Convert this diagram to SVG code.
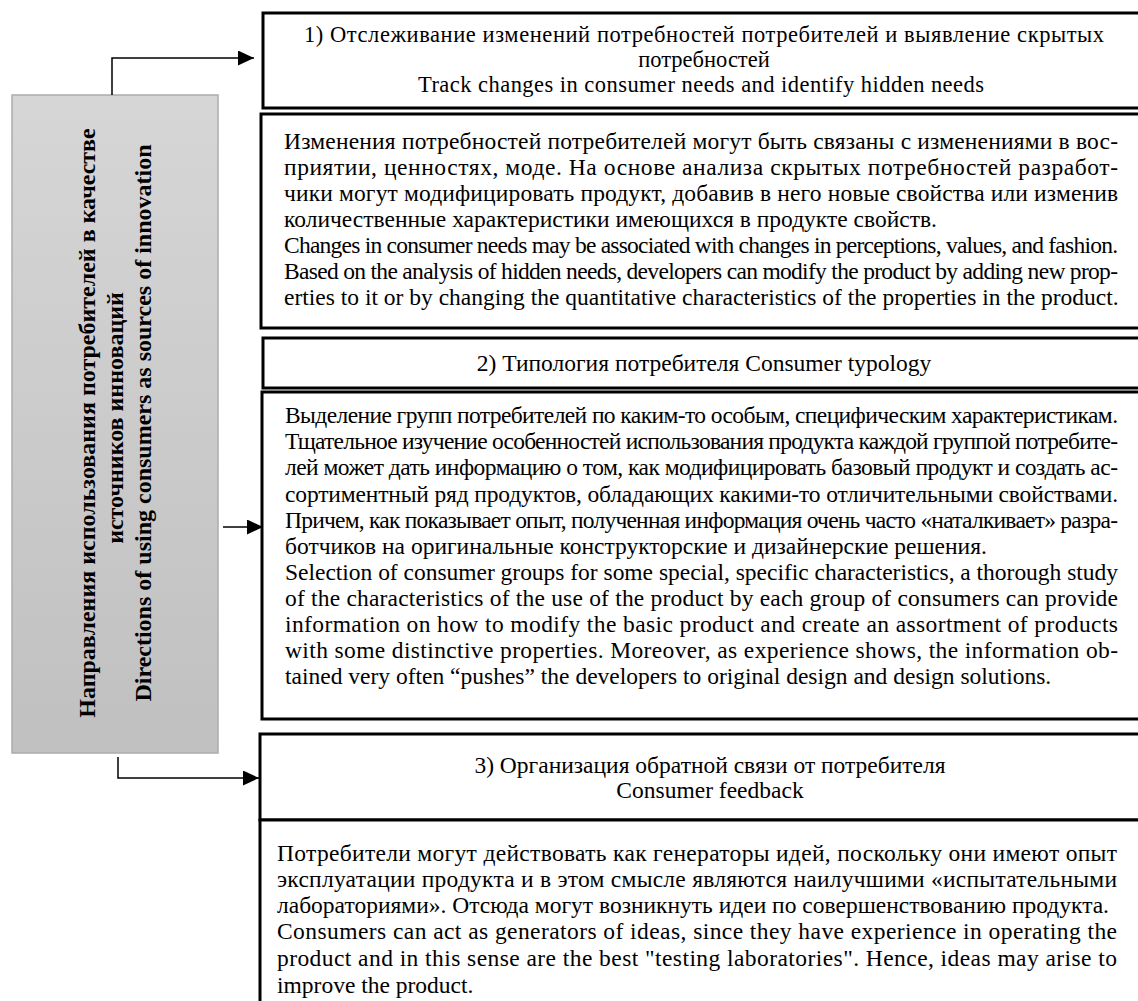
<svg xmlns="http://www.w3.org/2000/svg" width="1138" height="1001" viewBox="0 0 1138 1001">
<style>
.box{fill:#fff;stroke:#000;stroke-width:3}
.t{font-family:"Liberation Serif","Times New Roman",serif;font-size:23.5px;fill:#000}
.h{font-family:"Liberation Serif","Times New Roman",serif;font-size:23.5px;fill:#000;text-anchor:middle}
.h1{font-size:22.5px}
.v{font-family:"Liberation Serif","Times New Roman",serif;font-size:24px;font-weight:bold;fill:#000;text-anchor:middle}
.conn{fill:none;stroke:#000;stroke-width:1.5}
</style>
<defs>
<linearGradient id="g" x1="0" y1="0" x2="0" y2="1">
<stop offset="0" stop-color="#d6d6d6"/>
<stop offset="1" stop-color="#c0c0c0"/>
</linearGradient>
<marker id="arr" viewBox="0 0 16 15" refX="16" refY="7.5" markerWidth="16" markerHeight="15" markerUnits="userSpaceOnUse" orient="auto">
<path d="M0,0 L16,7.5 L0,15 Z" fill="#000"/>
</marker>
</defs>

<g id="main">
<rect x="12" y="95" width="206" height="658" fill="url(#g)" stroke="#acacac" stroke-width="1.5"/>
<text class="v" transform="translate(95,423) rotate(-90)">Направления использования потребителей в качестве</text>
<text class="v" transform="translate(123,418) rotate(-90)">источников инноваций</text>
<text class="v" transform="translate(151,423) rotate(-90)">Directions of using consumers as sources of innovation</text>
</g>

<g id="connectors">
<polyline class="conn" points="112,95 112,58 254,58" marker-end="url(#arr)"/>
<line class="conn" x1="223" y1="527" x2="263" y2="527" marker-end="url(#arr)"/>
<polyline class="conn" points="118,757 118,778 259,778" marker-end="url(#arr)"/>
</g>

<g id="header1">
<rect class="box" x="263" y="13" width="900" height="95"/>
<text class="h h1" x="704" y="42" textLength="800" lengthAdjust="spacing">1) Отслеживание изменений потребностей потребителей и выявление скрытых</text>
<text class="h h1" x="704" y="67">потребностей</text>
<text class="h h1" x="701" y="92" textLength="566" lengthAdjust="spacing">Track changes in consumer needs and identify hidden needs</text>
</g>

<g id="body1">
<rect class="box" x="261" y="114" width="900" height="214"/>
<text class="t" x="284" y="149" textLength="834" lengthAdjust="spacing">Изменения потребностей потребителей могут быть связаны с изменениями в вос-</text>
<text class="t" x="284" y="175" textLength="834" lengthAdjust="spacing">приятии, ценностях, моде. На основе анализа скрытых потребностей разработ-</text>
<text class="t" x="284" y="201" textLength="834" lengthAdjust="spacing">чики могут модифицировать продукт, добавив в него новые свойства или изменив</text>
<text class="t" x="284" y="227">количественные характеристики имеющихся в продукте свойств.</text>
<text class="t" x="284" y="253" textLength="834" lengthAdjust="spacing">Changes in consumer needs may be associated with changes in perceptions, values, and fashion.</text>
<text class="t" x="284" y="279" textLength="834" lengthAdjust="spacing">Based on the analysis of hidden needs, developers can modify the product by adding new prop-</text>
<text class="t" x="284" y="305">erties to it or by changing the quantitative characteristics of the properties in the product.</text>
</g>

<g id="header2">
<rect class="box" x="263" y="338" width="900" height="50"/>
<text class="h" x="704" y="371">2) Типология потребителя Consumer typology</text>
</g>

<g id="body2">
<rect class="box" x="262" y="392" width="900" height="327"/>
<text class="t" x="285" y="423" textLength="833" lengthAdjust="spacing">Выделение групп потребителей по каким-то особым, специфическим характеристикам.</text>
<text class="t" x="285" y="449" textLength="833" lengthAdjust="spacing">Тщательное изучение особенностей использования продукта каждой группой потребите-</text>
<text class="t" x="285" y="475" textLength="833" lengthAdjust="spacing">лей может дать информацию о том, как модифицировать базовый продукт и создать ас-</text>
<text class="t" x="285" y="502" textLength="833" lengthAdjust="spacing">сортиментный ряд продуктов, обладающих какими-то отличительными свойствами.</text>
<text class="t" x="285" y="528" textLength="833" lengthAdjust="spacing">Причем, как показывает опыт, полученная информация очень часто «наталкивает» разра-</text>
<text class="t" x="285" y="554">ботчиков на оригинальные конструкторские и дизайнерские решения.</text>
<text class="t" x="285" y="580" textLength="833" lengthAdjust="spacing">Selection of consumer groups for some special, specific characteristics, a thorough study</text>
<text class="t" x="285" y="606" textLength="833" lengthAdjust="spacing">of the characteristics of the use of the product by each group of consumers can provide</text>
<text class="t" x="285" y="632" textLength="833" lengthAdjust="spacing">information on how to modify the basic product and create an assortment of products</text>
<text class="t" x="285" y="658" textLength="833" lengthAdjust="spacing">with some distinctive properties. Moreover, as experience shows, the information ob-</text>
<text class="t" x="285" y="684">tained very often “pushes” the developers to original design and design solutions.</text>
</g>

<g id="header3">
<rect class="box" x="260" y="734" width="900" height="86"/>
<text class="h" x="710" y="773">3) Организация обратной связи от потребителя</text>
<text class="h" x="710" y="798">Consumer feedback</text>
</g>

<g id="body3">
<rect class="box" x="260" y="820" width="900" height="220"/>
<text class="t" x="277" y="861" textLength="840" lengthAdjust="spacing">Потребители могут действовать как генераторы идей, поскольку они имеют опыт</text>
<text class="t" x="277" y="887" textLength="840" lengthAdjust="spacing">эксплуатации продукта и в этом смысле являются наилучшими «испытательными</text>
<text class="t" x="277" y="913">лабораториями». Отсюда могут возникнуть идеи по совершенствованию продукта.</text>
<text class="t" x="277" y="939" textLength="840" lengthAdjust="spacing">Consumers can act as generators of ideas, since they have experience in operating the</text>
<text class="t" x="277" y="966" textLength="840" lengthAdjust="spacing">product and in this sense are the best "testing laboratories". Hence, ideas may arise to</text>
<text class="t" x="277" y="993">improve the product.</text>
</g>
</svg>
